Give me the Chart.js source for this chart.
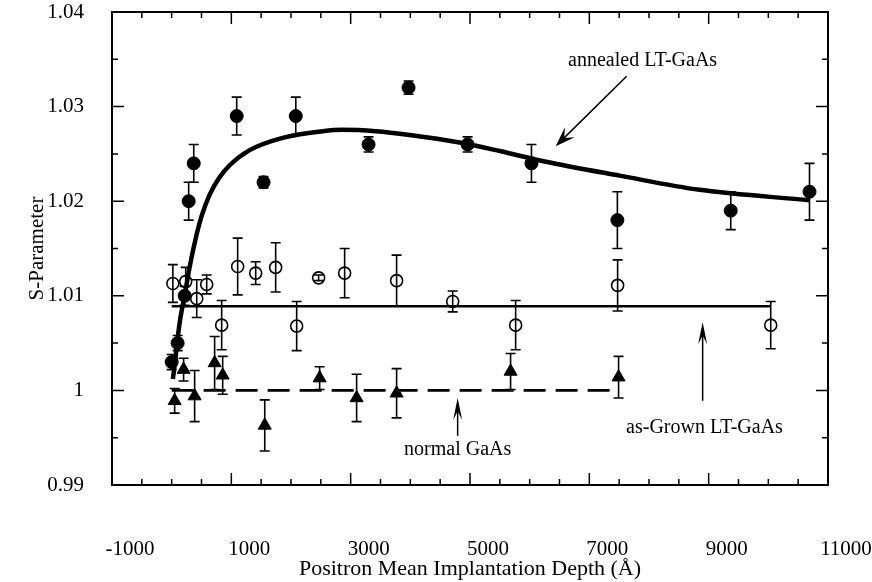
<!DOCTYPE html>
<html>
<head>
<meta charset="utf-8">
<script src="https://cdn.jsdelivr.net/npm/chart.js@4/dist/chart.umd.min.js"></script>
<style>
  html, body { margin: 0; padding: 0; background: #fff; }
  #wrap { width: 872px; height: 582px; }
</style>
</head>
<body>
<div id="wrap"><canvas id="sChart" width="872" height="582"></canvas></div>
<script>
'use strict';

// ── Data ──────────────────────────────────────────────────────
// annealed LT-GaAs (filled circles)
const annealedX   = [0, 100, 218, 285, 370, 1090, 1540, 2080, 3300, 3970, 4960, 6030, 7470, 9370, 10690];
const annealedY   = [1.003, 1.005, 1.010, 1.020, 1.024, 1.029, 1.022, 1.029, 1.026, 1.032, 1.026, 1.024, 1.018, 1.019, 1.021];
const annealedErr = [0.0008, 0.0008, 0.001, 0.002, 0.002, 0.002, 0.0006, 0.002, 0.0008, 0.0007, 0.0008, 0.002, 0.003, 0.002, 0.003];

// fit curve through annealed data
const fitX = [20, 60, 100, 150, 218, 300, 419, 500, 637, 800, 972, 1307, 1860, 2531, 2866, 3419, 3989, 4826, 5500, 6251, 7508, 8849, 10692];
const fitY = [1.0012, 1.0032, 1.0055, 1.0078, 1.0100, 1.0130, 1.0165, 1.0184, 1.0207, 1.0225, 1.0238, 1.0254, 1.0267, 1.0274, 1.02755, 1.0274, 1.0270, 1.0262, 1.0253, 1.0242, 1.0227, 1.0212, 1.0201];

// as-Grown LT-GaAs (open circles)
const grownX   = [20, 235, 420, 587, 838, 1106, 1408, 1743, 2095, 2463, 2899, 3770, 4710, 5765, 7474, 10040];
const grownY   = [1.0113, 1.0115, 1.0097, 1.0112, 1.0069, 1.0131, 1.0124, 1.0130, 1.0068, 1.0119, 1.0124, 1.0116, 1.0094, 1.0069, 1.0111, 1.0069];
const grownErr = [0.002, 0.0015, 0.002, 0.001, 0.0026, 0.003, 0.0012, 0.0026, 0.0026, 0.0003, 0.0026, 0.0027, 0.0011, 0.0026, 0.0027, 0.0025];
const grownLineX = [0, 10040];
const grownLineY = [1.0089, 1.0089];

// normal GaAs (filled triangles)
const normalX   = [50, 200, 385, 720, 855, 1560, 2480, 3100, 3770, 5680, 7490];
const normalY   = [0.9989, 1.0022, 0.9994, 1.0029, 1.0016, 0.9963, 1.0013, 0.9992, 0.9997, 1.0020, 1.0014];
const normalErr = [0.0013, 0.0012, 0.0027, 0.0028, 0.002, 0.0027, 0.0012, 0.0025, 0.0026, 0.0019, 0.0022];
const normalLineX = [0, 7490];
const normalLineY = [1.0, 1.0];

// axis ranges / ticks
const xMin = -1000, xMax = 11000, xStep = 2000, xMinor = 500;
const yMin = 0.99,  yMax = 1.04,  yStep = 0.01, yMinor = 0.005;

// labels with arrows (data coords)
const notes = [
  { text: 'annealed LT-GaAs',  tx: 7893, ty: 1.0348, from: [7625, 1.0332], to: [6435, 1.0258], head: 'wide' },
  { text: 'as-Grown LT-GaAs',  tx: 8930, ty: 0.9960, from: [8899, 0.9989], to: [8899, 1.0072], head: 'narrow' },
  { text: 'normal GaAs',       tx: 4793, ty: 0.9937, from: [4793, 0.9952], to: [4793, 0.9992], head: 'narrow' },
];

const SERIF = "'Liberation Serif', 'Times New Roman', serif";

function pts(xs, ys) {
  return xs.map((x, i) => ({ x, y: ys[i] }));
}

// ── Plugins ───────────────────────────────────────────────────
const errorBars = {
  id: 'errorBars',
  afterDatasetsDraw(chart) {
    const { ctx, scales: { x, y } } = chart;
    const sets = [
      [annealedX, annealedY, annealedErr],
      [grownX, grownY, grownErr],
      [normalX, normalY, normalErr],
    ];
    ctx.save();
    ctx.strokeStyle = '#000';
    ctx.lineWidth = 1.6;
    sets.forEach(([xs, ys, es]) => {
      xs.forEach((xv, i) => {
        const px = x.getPixelForValue(xv);
        const top = y.getPixelForValue(ys[i] + es[i]);
        const bot = y.getPixelForValue(ys[i] - es[i]);
        ctx.beginPath();
        ctx.moveTo(px, top); ctx.lineTo(px, bot);
        ctx.moveTo(px - 5, top); ctx.lineTo(px + 5, top);
        ctx.moveTo(px - 5, bot); ctx.lineTo(px + 5, bot);
        ctx.stroke();
      });
    });
    ctx.restore();
  },
};

const frameTicks = {
  id: 'frameTicks',
  afterDraw(chart) {
    const { ctx, chartArea: a, scales: { x, y } } = chart;
    ctx.save();
    ctx.strokeStyle = '#000';
    ctx.lineWidth = 2;
    ctx.strokeRect(a.left, a.top, a.right - a.left, a.bottom - a.top);
    ctx.lineWidth = 1.5;
    ctx.beginPath();
    for (let v = xMin; v <= xMax + 1e-6; v += xMinor) {
      const px = x.getPixelForValue(v);
      const len = ((v - xMin) % xStep === 0) ? 12 : 6;
      ctx.moveTo(px, a.bottom); ctx.lineTo(px, a.bottom - len);
      ctx.moveTo(px, a.top);    ctx.lineTo(px, a.top + len);
    }
    for (let k = 0; k <= Math.round((yMax - yMin) / yMinor); k++) {
      const v = yMin + k * yMinor;
      const py = y.getPixelForValue(v);
      const len = (k % 2 === 0) ? 12 : 6;
      ctx.moveTo(a.left, py);  ctx.lineTo(a.left + len, py);
      ctx.moveTo(a.right, py); ctx.lineTo(a.right - len, py);
    }
    ctx.stroke();
    ctx.restore();
  },
};

function drawArrow(ctx, x1, y1, x2, y2, kind) {
  const ang = Math.atan2(y2 - y1, x2 - x1);
  const hl = kind === 'wide' ? 20 : 22;
  const hw = kind === 'wide' ? 7 : 4.5;
  ctx.beginPath();
  ctx.moveTo(x1, y1);
  ctx.lineTo(x2 - Math.cos(ang) * hl * 0.6, y2 - Math.sin(ang) * hl * 0.6);
  ctx.stroke();
  ctx.beginPath();
  ctx.moveTo(x2, y2);
  ctx.lineTo(x2 - Math.cos(ang) * hl + Math.sin(ang) * hw, y2 - Math.sin(ang) * hl - Math.cos(ang) * hw);
  ctx.lineTo(x2 - Math.cos(ang) * hl * 0.6, y2 - Math.sin(ang) * hl * 0.6);
  ctx.lineTo(x2 - Math.cos(ang) * hl - Math.sin(ang) * hw, y2 - Math.sin(ang) * hl + Math.cos(ang) * hw);
  ctx.closePath();
  ctx.fill();
}

const notesPlugin = {
  id: 'notes',
  afterDraw(chart) {
    const { ctx, scales: { x, y } } = chart;
    ctx.save();
    ctx.fillStyle = '#000';
    ctx.strokeStyle = '#000';
    ctx.lineWidth = 1.5;
    ctx.font = '20px ' + SERIF;
    ctx.textAlign = 'center';
    ctx.textBaseline = 'middle';
    notes.forEach(n => {
      ctx.fillText(n.text, x.getPixelForValue(n.tx), y.getPixelForValue(n.ty));
      drawArrow(ctx,
        x.getPixelForValue(n.from[0]), y.getPixelForValue(n.from[1]),
        x.getPixelForValue(n.to[0]),   y.getPixelForValue(n.to[1]), n.head);
    });
    ctx.restore();
  },
};

// stop the scales from adding label overflow padding
function noOverflow(scale) {
  scale.paddingLeft = 0;
  scale.paddingRight = 0;
  scale.paddingTop = 0;
  scale.paddingBottom = 0;
}

// ── Chart ─────────────────────────────────────────────────────
const ctx = document.getElementById('sChart').getContext('2d');

new Chart(ctx, {
  type: 'scatter',
  data: {
    datasets: [
      {
        label: 'fit annealed',
        data: pts(fitX, fitY),
        showLine: true,
        borderColor: '#000',
        borderWidth: 4.5,
        pointRadius: 0,
        cubicInterpolationMode: 'monotone',
      },
      {
        label: 'as-grown level',
        data: pts(grownLineX, grownLineY),
        showLine: true,
        borderColor: '#000',
        borderWidth: 2.5,
        pointRadius: 0,
      },
      {
        label: 'normal level',
        data: pts(normalLineX, normalLineY),
        showLine: true,
        borderColor: '#000',
        borderWidth: 2.8,
        borderDash: [22, 10],
        pointRadius: 0,
      },
      {
        label: 'annealed LT-GaAs',
        data: pts(annealedX, annealedY),
        pointStyle: 'circle',
        pointRadius: 6.5,
        backgroundColor: '#000',
        borderColor: '#000',
        borderWidth: 1,
      },
      {
        label: 'as-Grown LT-GaAs',
        data: pts(grownX, grownY),
        pointStyle: 'circle',
        pointRadius: 6,
        backgroundColor: 'rgba(255,255,255,0)',
        borderColor: '#000',
        borderWidth: 1.6,
      },
      {
        label: 'normal GaAs',
        data: pts(normalX, normalY),
        pointStyle: 'triangle',
        pointRadius: 7.5,
        backgroundColor: '#000',
        borderColor: '#000',
        borderWidth: 1,
      },
    ],
  },
  options: {
    responsive: false,
    animation: false,
    layout: { padding: { left: 25, right: 44, top: 12, bottom: 0 } },
    plugins: {
      legend: { display: false },
      tooltip: { enabled: false },
    },
    scales: {
      x: {
        type: 'linear',
        min: xMin,
        max: xMax,
        afterFit(scale) { scale.height = 97; noOverflow(scale); },
        grid: { display: false, drawTicks: false },
        border: { display: false },
        ticks: {
          stepSize: xStep,
          color: '#000',
          padding: 52,
          labelOffset: 18,
          font: { family: SERIF, size: 21 },
          maxRotation: 0,
          callback: v => String(v),
        },
        title: {
          display: true,
          text: 'Positron Mean Implantation Depth (Å)',
          color: '#000',
          font: { family: SERIF, size: 22 },
          padding: { top: 0, bottom: 0 },
        },
      },
      y: {
        type: 'linear',
        min: yMin,
        max: yMax,
        afterFit(scale) { scale.width = 87; noOverflow(scale); },
        grid: { display: false, drawTicks: false },
        border: { display: false },
        ticks: {
          stepSize: yStep,
          color: '#000',
          padding: 28,
          font: { family: SERIF, size: 21 },
          callback: v => String(+v.toFixed(3)),
        },
        title: {
          display: true,
          text: 'S-Parameter',
          color: '#000',
          font: { family: SERIF, size: 21 },
          padding: 0,
        },
      },
    },
  },
  plugins: [errorBars, frameTicks, notesPlugin],
});
</script>
</body>
</html>
